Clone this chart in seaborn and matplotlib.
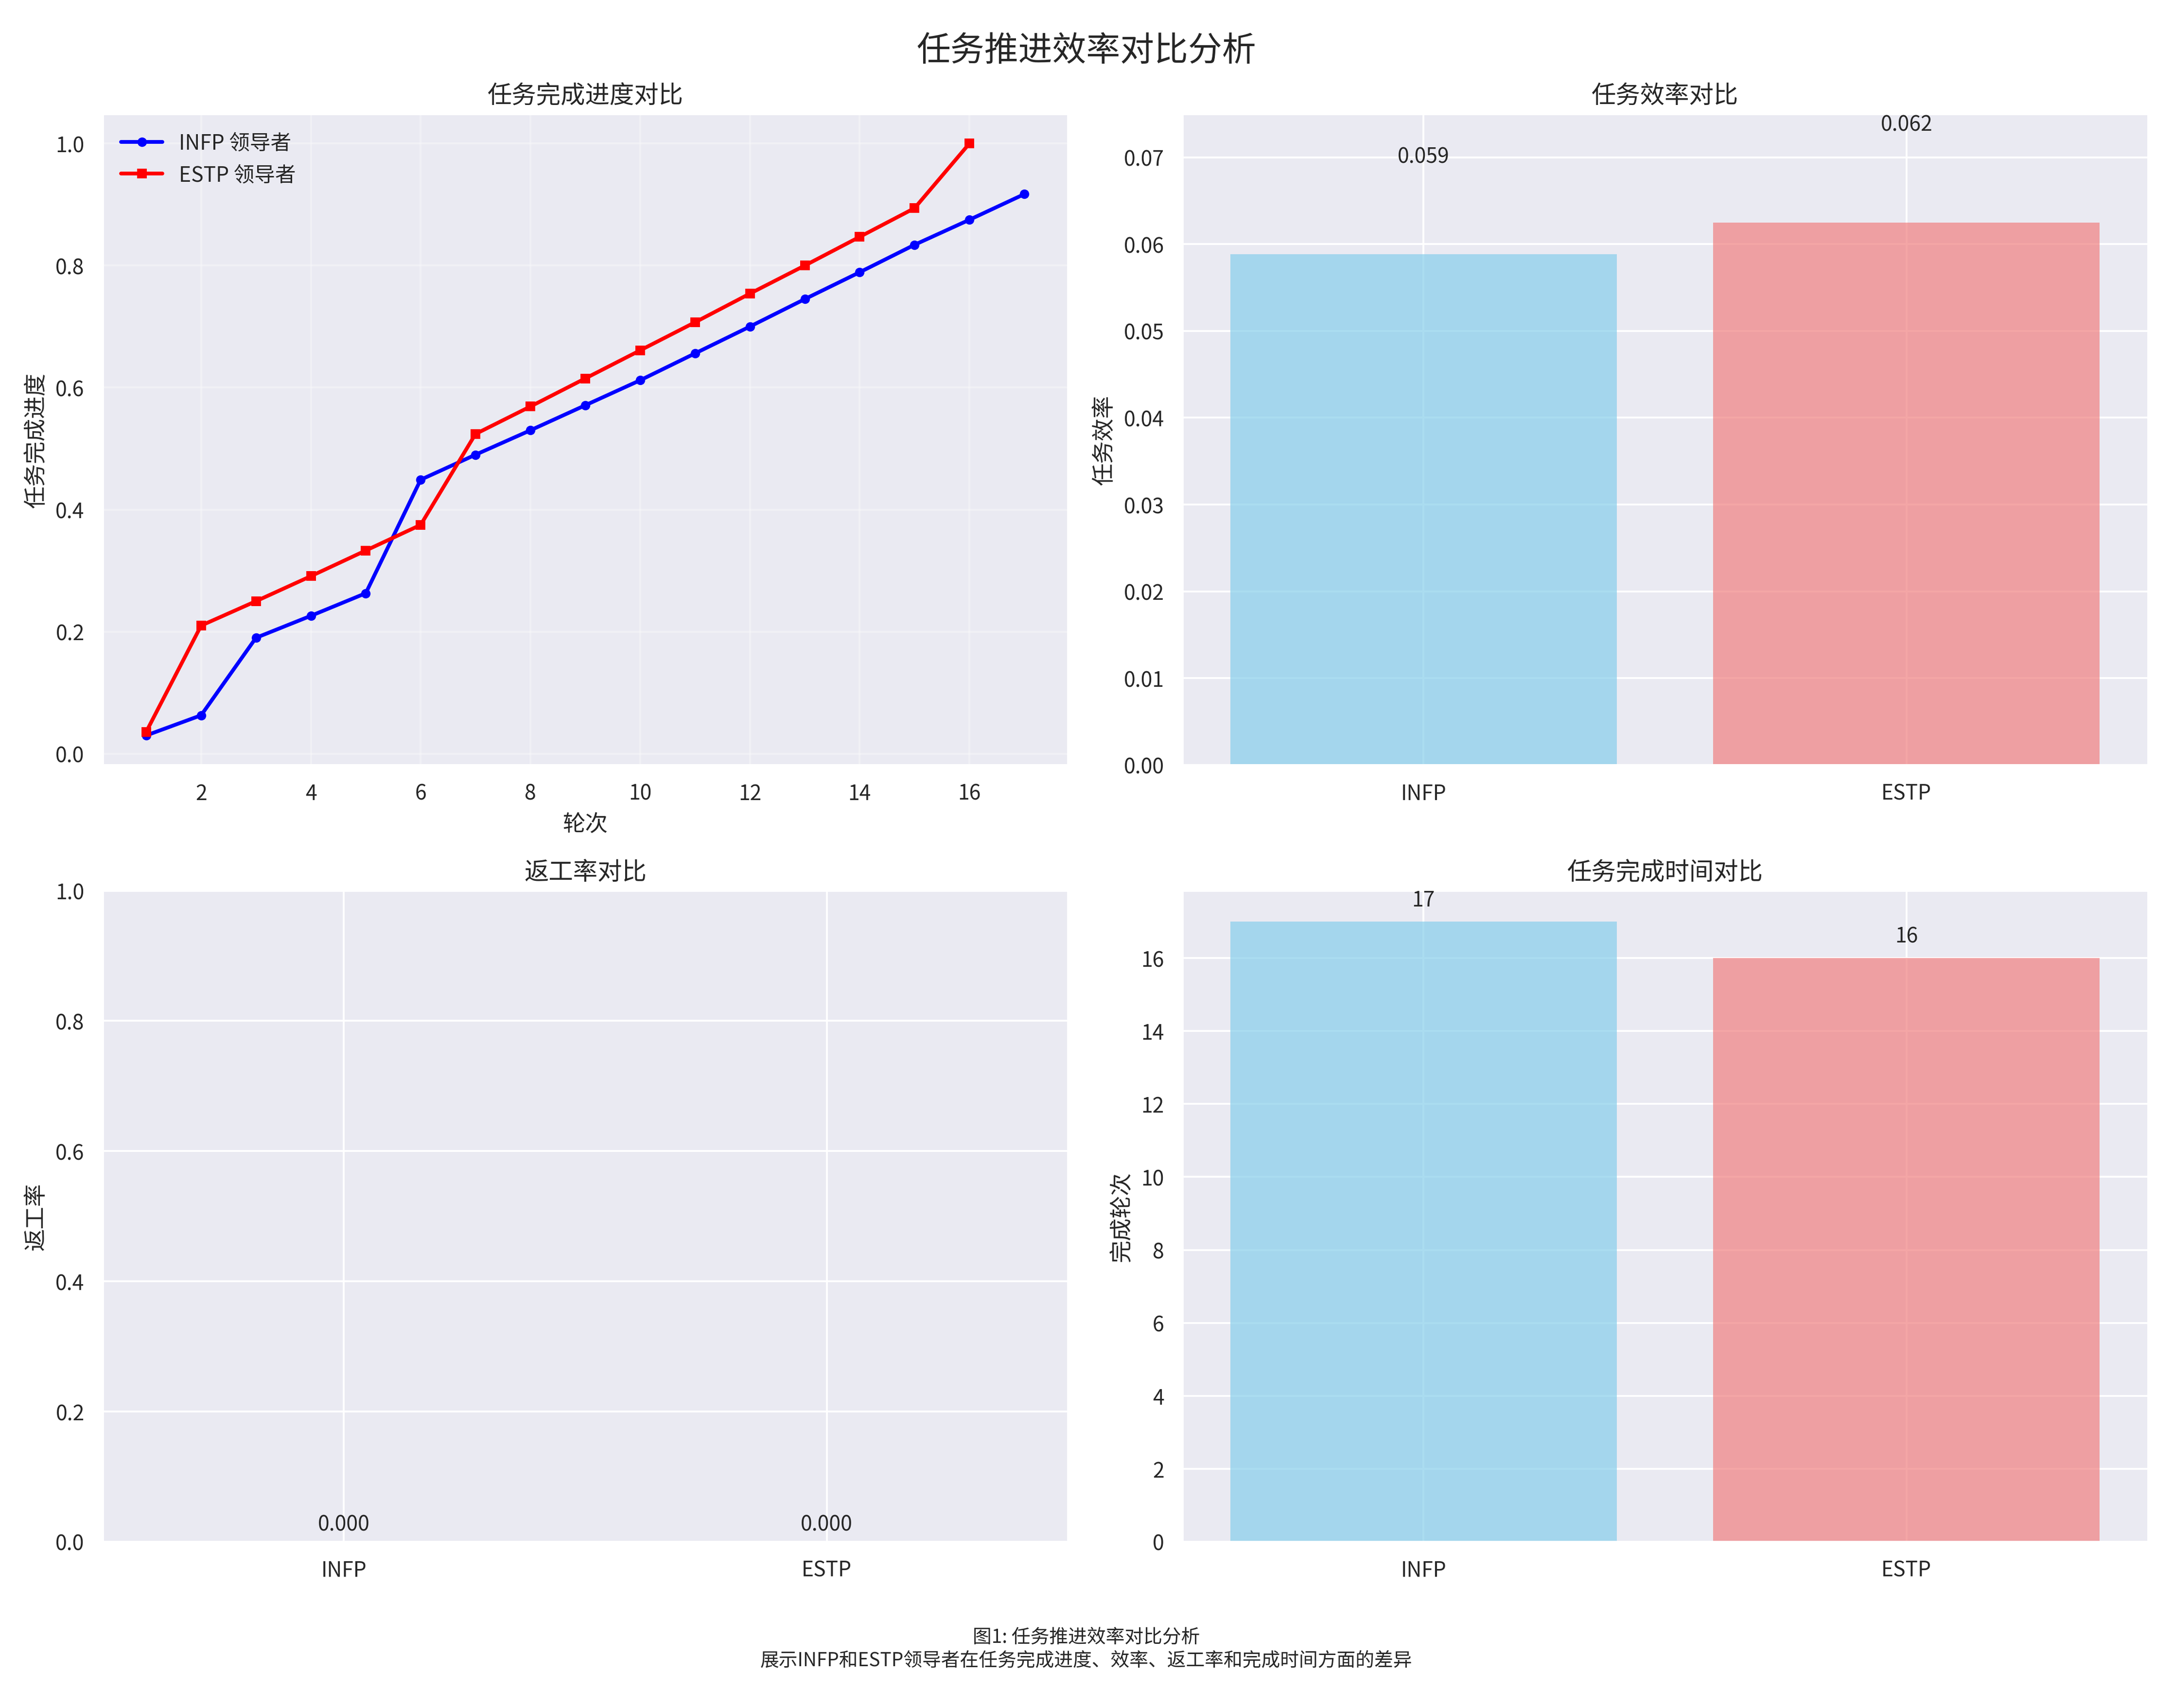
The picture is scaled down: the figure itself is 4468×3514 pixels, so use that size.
import matplotlib
matplotlib.use("Agg")
import matplotlib.pyplot as plt
import seaborn as sns
import pandas as pd

sns.set_theme(style="darkgrid")
plt.rcParams['font.family'] = ['Noto Sans CJK SC', 'DejaVu Sans']
plt.rcParams['axes.unicode_minus'] = False

infp_progress = [0.030, 0.063, 0.190, 0.226, 0.263, 0.449, 0.490, 0.530, 0.571, 0.612,
                 0.656, 0.700, 0.745, 0.789, 0.834, 0.875, 0.917]
estp_progress = [0.036, 0.210, 0.250, 0.291, 0.333, 0.375, 0.524, 0.569, 0.615, 0.661,
                 0.707, 0.754, 0.800, 0.847, 0.894, 1.000]
types = ["INFP", "ESTP"]
efficiency = [1/17, 1/16]
rework = [0.0, 0.0]
finish_rounds = [17, 16]
bar_colors = ["skyblue", "lightcoral"]

fig, axes = plt.subplots(2, 2, figsize=(16, 12.585), dpi=279.3)
fig.suptitle("任务推进效率对比分析", fontsize=18)

ax = axes[0, 0]
sns.lineplot(x=range(1, len(infp_progress)+1), y=infp_progress, ax=ax, color="blue",
             marker="o", linewidth=2, markersize=5, markeredgewidth=0, label="INFP 领导者")
sns.lineplot(x=range(1, len(estp_progress)+1), y=estp_progress, ax=ax, color="red",
             marker="s", linewidth=2, markersize=5, markeredgewidth=0, label="ESTP 领导者")
ax.set_title("任务完成进度对比", fontsize=13)
ax.set_xlabel("轮次", fontsize=12)
ax.set_ylabel("任务完成进度", fontsize=12)
ax.legend(loc="upper left", frameon=False, fontsize=11)
ax.grid(True, alpha=0.3)

def bars(ax, vals, title, ylabel, fmt, off):
    df = pd.DataFrame({"t": types, "v": vals})
    sns.barplot(data=df, x="t", y="v", hue="t", palette=bar_colors, alpha=0.7, ax=ax,
                legend=False, saturation=1, linewidth=0)
    ax.set_title(title, fontsize=13)
    ax.set_ylabel(ylabel, fontsize=12)
    ax.set_xlabel("")
    ax.grid(True, axis="both")
    ax.set_axisbelow(True)
    for i, v in enumerate(vals):
        ax.text(i, v + off, fmt.format(v), ha="center", va="bottom", fontsize=11)

bars(axes[0, 1], efficiency, "任务效率对比", "任务效率", "{:.3f}", 0.01)
axes[0, 1].set_ylim(0, 0.075)
bars(axes[1, 0], rework, "返工率对比", "返工率", "{:.3f}", 0.01)
axes[1, 0].set_ylim(0, 1)
bars(axes[1, 1], finish_rounds, "任务完成时间对比", "完成轮次", "{:d}", 0.3)

fig.text(0.5, 0.025, "图1: 任务推进效率对比分析\n展示INFP和ESTP领导者在任务完成进度、效率、返工率和完成时间方面的差异",
         ha="center", fontsize=10)
plt.tight_layout(rect=[0, 0.06, 1, 1])
fig.savefig("out.png")
